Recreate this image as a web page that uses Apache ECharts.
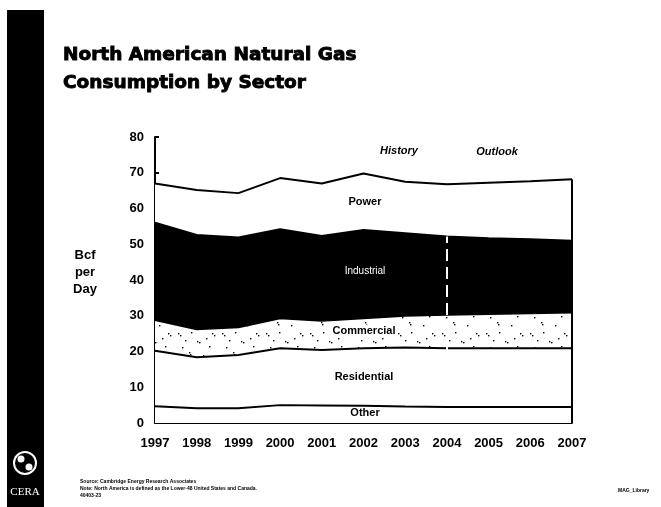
<!DOCTYPE html>
<html>
<head>
<meta charset="utf-8">
<script src="https://cdn.jsdelivr.net/npm/echarts@6/dist/echarts.min.js"></script>
<style>
  html, body { margin: 0; background: #fff; }
  #chart { width: 661px; height: 507px; }
</style>
</head>
<body>
<div id="chart"></div>
<script>
var years = ['1997', '1998', '1999', '2000', '2001', '2002', '2003', '2004', '2005', '2006', '2007'];
// Bcf per day, by sector (stacked bottom to top)
var other       = [4.7, 4.1, 4.1, 5.0, 4.9, 4.8, 4.6, 4.5, 4.5, 4.5, 4.5];
var residential = [15.5, 14.3, 14.9, 15.9, 15.5, 16.1, 16.5, 16.4, 16.4, 16.4, 16.4];
var commercial  = [8.6, 7.8, 7.8, 8.4, 8.2, 8.4, 8.9, 9.4, 9.6, 9.8, 10.0];
var industrial  = [27.2, 26.4, 25.1, 24.9, 23.7, 24.7, 23.1, 21.9, 21.2, 20.7, 20.1];
var power       = [11.0, 12.6, 12.4, 14.3, 14.7, 15.8, 14.4, 14.6, 15.5, 16.2, 17.2];

// speckled fill for commercial band
var speck = document.createElement('canvas');
speck.width = 44; speck.height = 30;
var ctx = speck.getContext('2d');
ctx.fillStyle = '#fff';
ctx.fillRect(0, 0, 44, 30);
ctx.fillStyle = '#000';
[[2,3],[4,5],[15,2],[21,11],[23,12],[33,16],[6,17],[13,22],[14,24],[27,25],[36,3],[38,5],[9,10],[30,8]].forEach(function (p) {
  ctx.fillRect(p[0], p[1], 1.4, 1.4);
});

var myChart = echarts.init(document.getElementById('chart'));

function band(name, data, fill) {
  return {
    name: name,
    type: 'line',
    stack: 'total',
    data: data,
    symbol: 'none',
    silent: true,
    lineStyle: { color: '#000', width: 2 },
    areaStyle: { color: fill, opacity: 1 }
  };
}

var sum = function (i) { return other[i] + residential[i] + commercial[i] + industrial[i] + power[i]; };
var indTop = function (i) { return other[i] + residential[i] + commercial[i] + industrial[i]; };

var powerSeries = band('Power', power, '#fff');
powerSeries.markLine = {
  symbol: 'none',
  silent: true,
  label: { show: false },
  data: [
    [{ coord: ['2004', 0], lineStyle: { color: '#fff', width: 2, type: [12, 6] } }, { coord: ['2004', indTop(7)] }],
    [{ coord: ['2007', 0], lineStyle: { color: '#000', width: 2, type: 'solid' } }, { coord: ['2007', sum(10)] }]
  ]
};

var lbl = 'Liberation Sans';
var titleFont = 'bold 18.5px "DejaVu Sans"';

option = {
  animation: false,
  backgroundColor: '#fff',
  grid: { left: 155, right: 89, top: 137, bottom: 84 },
  xAxis: {
    type: 'category',
    data: years,
    boundaryGap: false,
    axisLine: { lineStyle: { color: '#000', width: 2 } },
    axisTick: { inside: true, length: 4, lineStyle: { color: '#000', width: 2 } },
    axisLabel: { color: '#000', fontWeight: 'bold', fontSize: 13, fontFamily: lbl, margin: 14 }
  },
  yAxis: {
    type: 'value',
    min: 0,
    max: 80,
    interval: 10,
    splitLine: { show: false },
    axisLine: { show: true, lineStyle: { color: '#000', width: 2 } },
    axisTick: { show: true, inside: true, length: 4, lineStyle: { color: '#000', width: 2 } },
    axisLabel: { color: '#000', fontWeight: 'bold', fontSize: 13, fontFamily: lbl, margin: 11 }
  },
  series: [
    band('Other', other, '#fff'),
    band('Residential', residential, '#fff'),
    band('Commercial', commercial, { image: speck, repeat: 'repeat' }),
    band('Industrial', industrial, '#000'),
    powerSeries
  ],
  graphic: [
    { type: 'rect', shape: { x: 7, y: 10, width: 37, height: 497 }, style: { fill: '#000' } },
    { type: 'circle', shape: { cx: 25, cy: 463, r: 11 }, style: { fill: '#000', stroke: '#fff', lineWidth: 2 } },
    { type: 'circle', shape: { cx: 21, cy: 459, r: 3.5 }, style: { fill: '#fff' } },
    { type: 'circle', shape: { cx: 29, cy: 467, r: 3.5 }, style: { fill: '#fff' } },
    { type: 'text', x: 25, y: 492, style: { text: 'CERA', font: '11px "Liberation Serif"', fill: '#fff', align: 'center', verticalAlign: 'middle' } },

    { type: 'text', x: 63, y: 55, style: { text: 'North American Natural Gas', font: titleFont, fill: '#000', stroke: '#000', lineWidth: 0.9, verticalAlign: 'middle' } },
    { type: 'text', x: 63, y: 83, style: { text: 'Consumption by Sector', font: titleFont, fill: '#000', stroke: '#000', lineWidth: 0.9, verticalAlign: 'middle' } },

    { type: 'text', x: 85, y: 272, style: { text: 'Bcf\nper\nDay', font: 'bold 13px "Liberation Sans"', lineHeight: 17, fill: '#000', align: 'center', verticalAlign: 'middle' } },

    { type: 'text', x: 399, y: 151, style: { text: 'History', font: 'italic bold 11px "Liberation Sans"', fill: '#000', align: 'center', verticalAlign: 'middle' } },
    { type: 'text', x: 497, y: 152, style: { text: 'Outlook', font: 'italic bold 11px "Liberation Sans"', fill: '#000', align: 'center', verticalAlign: 'middle' } },
    { type: 'text', x: 365, y: 202, z: 10, style: { text: 'Power', font: 'bold 11px "Liberation Sans"', fill: '#000', align: 'center', verticalAlign: 'middle' } },
    { type: 'text', x: 365, y: 271, z: 10, style: { text: 'Industrial', font: '10px "Liberation Sans"', fill: '#fff', align: 'center', verticalAlign: 'middle' } },
    { type: 'text', x: 364, y: 331, z: 10, style: { text: 'Commercial', font: 'bold 11px "Liberation Sans"', fill: '#000', backgroundColor: '#fff', padding: [1, 2], align: 'center', verticalAlign: 'middle' } },
    { type: 'text', x: 364, y: 377, z: 10, style: { text: 'Residential', font: 'bold 11px "Liberation Sans"', fill: '#000', align: 'center', verticalAlign: 'middle' } },
    { type: 'text', x: 365, y: 413, z: 10, style: { text: 'Other', font: 'bold 11px "Liberation Sans"', fill: '#000', backgroundColor: '#fff', padding: [0, 2], align: 'center', verticalAlign: 'middle' } },

    { type: 'text', x: 80, y: 482, style: { text: 'Source: Cambridge Energy Research Associates', font: 'bold 5px "Liberation Sans"', fill: '#000', verticalAlign: 'middle' } },
    { type: 'text', x: 80, y: 489, style: { text: 'Note: North America is defined as the Lower-48 United States and Canada.', font: 'bold 5px "Liberation Sans"', fill: '#000', verticalAlign: 'middle' } },
    { type: 'text', x: 80, y: 496, style: { text: '40403-23', font: 'bold 5px "Liberation Sans"', fill: '#000', verticalAlign: 'middle' } },
    { type: 'text', x: 618, y: 491, style: { text: 'MAG_Library', font: 'bold 5px "Liberation Sans"', fill: '#000', verticalAlign: 'middle' } }
  ]
};

myChart.setOption(option);
</script>
</body>
</html>
